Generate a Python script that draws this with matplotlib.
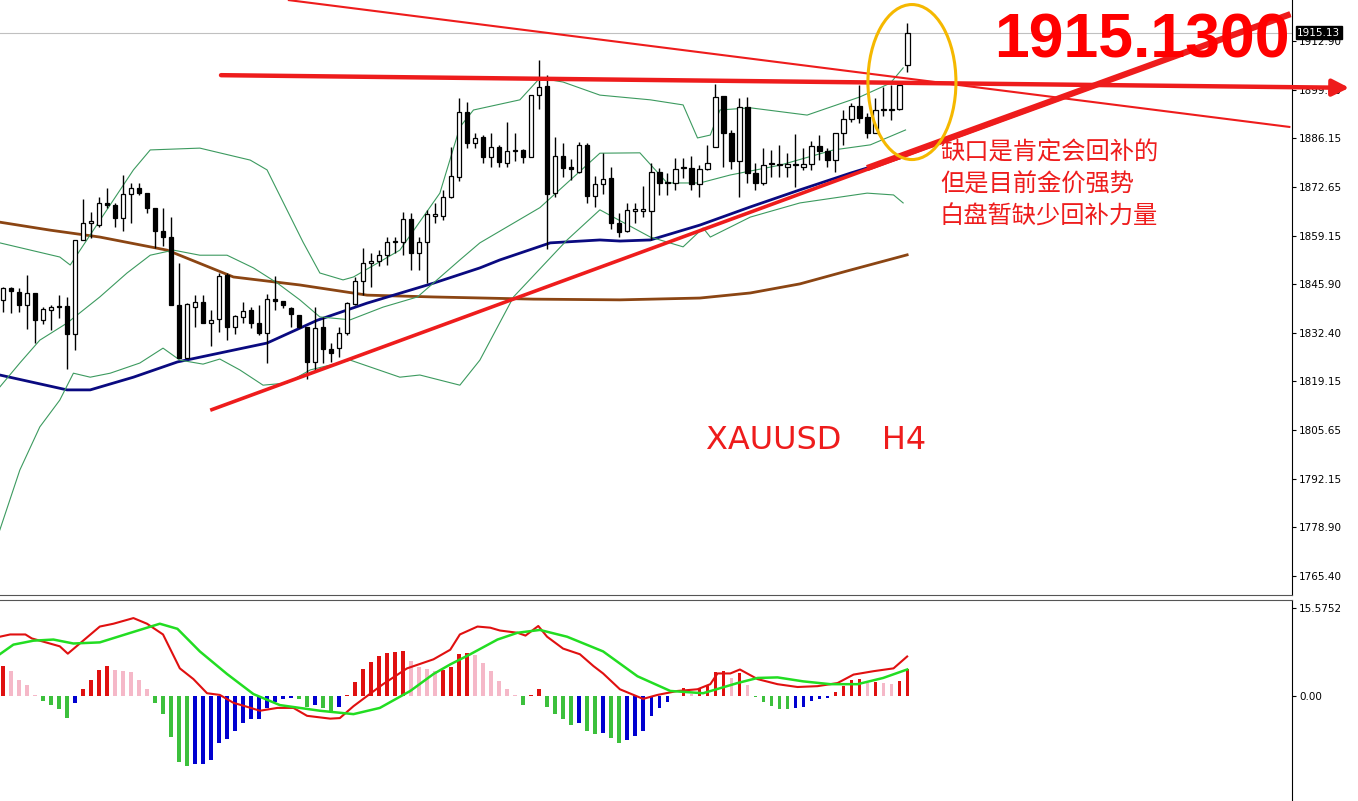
import matplotlib
matplotlib.use("Agg")
import matplotlib.pyplot as plt
from matplotlib.patches import Rectangle, Ellipse
import numpy as np

plt.rcParams['font.family'] = ['Noto Sans CJK SC', 'DejaVu Sans']

# XAUUSD H4 candles (open, high, low, close)
opens = [1841.4, 1844.8, 1843.7, 1840.1, 1843.4, 1835.9, 1838.7, 1839.5, 1839.8, 1832.1,
         1858.0, 1862.7, 1862.1, 1868.2, 1867.6, 1864.0, 1870.7, 1872.3, 1870.9, 1866.8,
         1860.5, 1858.8, 1840.1, 1825.5, 1839.5, 1840.9, 1835.1, 1836.2, 1848.3, 1834.0,
         1836.8, 1838.7, 1835.1, 1832.4, 1841.7, 1841.2, 1839.2, 1837.3, 1834.0, 1824.4,
         1833.9, 1827.9, 1828.2, 1832.4, 1840.4, 1846.7, 1851.6, 1852.2, 1853.8, 1857.4,
         1857.4, 1863.8, 1854.4, 1857.4, 1864.6, 1864.6, 1869.8, 1875.3, 1893.2, 1884.7,
         1886.4, 1880.8, 1883.6, 1879.2, 1882.5, 1882.8, 1880.8, 1897.9, 1900.4, 1870.9,
         1881.1, 1877.8, 1876.7, 1884.2, 1870.1, 1873.4, 1875.1, 1862.7, 1860.5, 1866.0,
         1866.0, 1866.0, 1876.7, 1873.7, 1873.7, 1877.8, 1877.8, 1873.4, 1877.5, 1883.6,
         1897.6, 1887.5, 1879.7, 1894.6, 1876.4, 1873.7, 1878.9, 1878.6, 1878.1, 1878.6,
         1878.1, 1878.9, 1883.9, 1882.5, 1880.0, 1887.5, 1891.3, 1894.9, 1891.9, 1887.5,
         1893.8, 1893.8, 1894.1, 1906.2]
highs = [1845.0, 1845.0, 1844.8, 1848.3, 1843.4, 1839.5, 1840.1, 1842.8, 1842.3, 1858.0,
         1869.3, 1865.7, 1869.8, 1872.3, 1868.2, 1875.9, 1873.7, 1873.7, 1870.9, 1866.8,
         1866.8, 1864.3, 1851.6, 1840.6, 1842.8, 1842.8, 1838.7, 1848.9, 1848.9, 1837.3,
         1840.9, 1839.5, 1840.1, 1843.1, 1848.1, 1840.9, 1839.5, 1837.3, 1834.0, 1839.5,
         1836.8, 1829.6, 1834.0, 1840.9, 1847.8, 1855.8, 1854.4, 1855.2, 1858.8, 1858.8,
         1865.7, 1865.4, 1858.8, 1866.2, 1868.2, 1871.8, 1883.6, 1897.1, 1896.0, 1887.5,
         1886.9, 1887.5, 1884.2, 1890.5, 1887.5, 1883.1, 1897.9, 1907.6, 1903.4, 1886.4,
         1884.7, 1880.3, 1885.0, 1884.7, 1875.6, 1881.9, 1878.1, 1865.4, 1868.2, 1868.2,
         1872.9, 1879.2, 1877.8, 1876.4, 1880.6, 1880.6, 1881.1, 1878.6, 1884.2, 1901.0,
         1897.6, 1888.3, 1897.1, 1897.4, 1879.2, 1883.3, 1882.8, 1884.2, 1881.9, 1887.2,
         1883.3, 1885.3, 1886.9, 1883.3, 1887.5, 1893.8, 1895.7, 1900.7, 1893.0, 1897.1,
         1900.1, 1900.7, 1900.7, 1917.8]
lows = [1838.1, 1837.9, 1838.1, 1833.5, 1829.6, 1834.8, 1833.2, 1836.5, 1822.4, 1827.7,
        1858.0, 1858.5, 1861.6, 1866.8, 1861.6, 1860.5, 1862.7, 1870.4, 1865.4, 1855.8,
        1856.3, 1840.1, 1825.5, 1825.5, 1834.0, 1835.1, 1828.8, 1832.6, 1830.4, 1832.1,
        1835.1, 1833.7, 1831.8, 1824.1, 1838.7, 1839.2, 1834.0, 1833.7, 1819.7, 1822.2,
        1824.1, 1824.4, 1825.7, 1831.8, 1840.1, 1842.8, 1845.0, 1850.8, 1851.1, 1854.4,
        1853.8, 1849.7, 1849.7, 1846.1, 1862.7, 1863.5, 1869.6, 1874.2, 1883.3, 1883.3,
        1879.2, 1878.1, 1878.1, 1878.1, 1879.7, 1879.2, 1881.9, 1894.1, 1855.5, 1869.8,
        1875.3, 1874.5, 1876.4, 1868.2, 1867.1, 1870.7, 1861.0, 1858.8, 1860.2, 1862.7,
        1864.3, 1858.0, 1870.4, 1870.4, 1871.8, 1875.1, 1871.8, 1869.8, 1877.3, 1883.6,
        1878.1, 1877.5, 1869.8, 1873.7, 1871.8, 1873.1, 1875.3, 1875.3, 1875.3, 1872.6,
        1877.3, 1877.3, 1880.0, 1878.1, 1876.7, 1884.2, 1890.5, 1890.2, 1886.1, 1887.5,
        1892.1, 1891.0, 1893.8, 1904.3]
closes = [1844.8, 1843.9, 1840.1, 1843.4, 1835.9, 1839.0, 1839.5, 1839.4, 1832.1, 1858.0,
          1862.7, 1862.9, 1868.2, 1867.6, 1864.0, 1870.7, 1872.3, 1870.9, 1866.8, 1860.5,
          1858.8, 1840.1, 1825.5, 1840.4, 1840.9, 1835.1, 1835.9, 1848.1, 1834.0, 1837.0,
          1838.4, 1835.1, 1832.4, 1841.7, 1841.2, 1840.1, 1837.6, 1834.0, 1824.4, 1833.7,
          1827.9, 1826.8, 1832.4, 1840.6, 1846.7, 1851.6, 1852.2, 1853.8, 1857.4, 1857.5,
          1863.8, 1854.4, 1857.4, 1865.1, 1865.1, 1869.8, 1875.6, 1893.2, 1884.7, 1886.1,
          1880.8, 1883.6, 1879.5, 1882.5, 1882.6, 1880.8, 1897.9, 1900.1, 1870.7, 1881.1,
          1877.8, 1877.6, 1884.2, 1870.1, 1873.4, 1874.8, 1862.7, 1860.2, 1866.2, 1866.1,
          1866.2, 1876.7, 1873.7, 1873.8, 1877.5, 1877.9, 1873.4, 1877.5, 1879.2, 1897.4,
          1887.5, 1879.7, 1894.6, 1876.4, 1873.7, 1878.6, 1879.0, 1878.7, 1878.9, 1878.7,
          1878.9, 1883.9, 1882.5, 1880.0, 1887.5, 1891.3, 1894.9, 1891.6, 1887.5, 1893.8,
          1893.9, 1894.1, 1900.7, 1915.1]

# Indicator lines, read at sample bar positions
brown_x = [-0.4, 5.9, 12.1, 20.5, 28.8, 37.1, 45.5, 53.8, 66.3, 77.1, 87.1, 93.4, 99.6, 105.9, 113.0]
brown_y = [1862.9, 1860.7, 1858.8, 1855.2, 1847.8, 1845.6, 1842.8, 1842.3, 1841.7, 1841.5,
           1842.0, 1843.4, 1845.9, 1849.7, 1853.9]
navy_x = [-0.4, 8.0, 10.9, 16.3, 21.8, 33.0, 39.3, 45.5, 53.8, 59.6, 62.1, 68.4, 74.6, 77.1,
          80.9, 87.1, 93.4, 99.6, 105.9, 112.1]
navy_y = [1820.8, 1816.7, 1816.7, 1820.2, 1824.4, 1829.6, 1835.9, 1840.6, 1846.1, 1850.3,
          1852.5, 1857.2, 1858.0, 1857.7, 1858.0, 1862.1, 1867.1, 1871.8, 1876.4, 1880.6]
bb_up_x = [-0.4, 7.1, 8.4, 16.3, 18.4, 24.6, 30.9, 33.0, 37.5, 39.6, 42.5, 43.8, 49.6, 54.6,
           57.1, 58.8, 64.6, 67.1, 70.0, 74.6, 80.9, 85.0, 86.8, 88.4, 89.6, 93.4, 100.5,
           107.1, 110.9, 112.5]
bb_up_y = [1857.2, 1853.3, 1851.1, 1877.3, 1882.8, 1883.3, 1880.0, 1877.3, 1857.4, 1848.9,
           1847.0, 1847.8, 1855.2, 1870.9, 1889.1, 1893.8, 1896.6, 1902.6, 1901.5, 1897.9,
           1896.6, 1895.2, 1886.1, 1886.9, 1893.8, 1894.4, 1892.4, 1897.4, 1901.2, 1905.4]
bb_mid_x = [-0.4, 2.1, 4.6, 8.0, 12.1, 15.5, 18.4, 21.3, 24.6, 28.0, 31.3, 34.3, 37.1, 39.6,
            43.4, 47.5, 51.8, 57.1, 59.6, 67.1, 74.6, 79.6, 83.0, 87.1, 90.9, 97.1, 103.8,
            108.4, 112.8]
bb_mid_y = [1817.5, 1824.1, 1830.4, 1835.1, 1842.3, 1848.9, 1853.8, 1855.2, 1853.8, 1853.8,
            1850.3, 1846.1, 1841.5, 1836.8, 1836.0, 1839.5, 1842.3, 1852.5, 1857.2, 1866.9,
            1881.9, 1882.0, 1873.7, 1873.7, 1875.9, 1878.6, 1882.8, 1884.2, 1888.3]
bb_lo_x = [-0.4, 2.1, 4.6, 7.1, 8.8, 10.9, 13.4, 17.1, 20.0, 22.1, 25.0, 27.1, 29.6, 32.5,
           35.5, 38.4, 43.4, 49.6, 52.1, 57.1, 59.6, 63.8, 70.5, 74.6, 80.9, 85.0, 87.5, 88.4,
           93.4, 99.6, 108.0, 111.3, 112.5]
bb_lo_y = [1778.1, 1794.6, 1806.5, 1813.9, 1821.3, 1820.2, 1821.3, 1824.1, 1828.2, 1824.9,
           1823.8, 1825.2, 1822.2, 1818.0, 1818.6, 1822.2, 1824.9, 1820.2, 1820.8, 1818.0,
           1824.9, 1842.3, 1858.0, 1866.3, 1858.8, 1856.1, 1861.3, 1858.8, 1864.3, 1868.2,
           1870.9, 1870.4, 1868.2]

# MACD histogram (one per candle) and lines
macd_hist = [5.25, 4.4, 2.9, 2.0, 0.2, -0.8, -1.6, -2.3, -3.8, -1.2,
             1.3, 2.9, 4.6, 5.25, 4.6, 4.5, 4.2, 2.9, 1.2, -1.3,
             -3.2, -7.3, -11.7, -12.4, -12.1, -12.0, -11.4, -8.3, -7.6, -6.2,
             -4.7, -4.1, -4.0, -2.2, -1.05, -0.6, -0.3, -0.6, -2.0, -1.6,
             -2.2, -2.6, -1.9, 0.1, 2.45, 4.7, 6.1, 7.0, 7.7, 7.75,
             8.0, 6.2, 5.1, 4.8, 4.5, 4.6, 5.1, 7.5, 7.55, 7.3,
             5.8, 4.5, 2.6, 1.3, 0.1, -1.5, 0.15, 1.3, -2.0, -3.1,
             -4.1, -5.1, -4.7, -6.2, -6.7, -6.5, -7.4, -8.3, -7.8, -7.0,
             -6.1, -3.6, -2.2, -1.0, 0.05, 1.5, 0.3, 1.3, 1.75, 4.2,
             4.4, 3.2, 4.1, 2.0, -0.1, -1.0, -1.75, -2.3, -2.35, -2.2,
             -2.0, -0.9, -0.5, -0.3, 0.7, 1.75, 2.9, 3.1, 2.3, 2.5,
             2.3, 2.2, 2.6, 4.7]
macd_x = [-0.4, 0.9, 2.8, 3.6, 7.1, 8.1, 9.6, 12.1, 13.8, 16.3,
          18.0, 20.0, 22.1, 23.8, 25.5, 27.1, 28.8, 30.5, 32.1, 34.3,
          36.3, 38.0, 40.9, 42.1, 43.8, 45.5, 47.5, 50.5, 53.8, 55.9,
          57.1, 59.3, 60.9, 62.1, 64.3, 65.3, 66.9, 68.0, 70.0, 72.1,
          73.8, 75.0, 77.1, 80.0, 81.8, 84.3, 86.8, 88.4, 89.3, 90.9,
          92.1, 94.3, 96.8, 99.3, 101.8, 104.3, 106.3, 108.8, 111.3, 113.0]
macd_y = [10.5, 10.9, 10.9, 10.2, 8.8, 7.5, 9.3, 12.3, 12.8, 13.8,
          12.8, 10.9, 4.9, 3.0, 0.5, 0.2, -1.2, -1.9, -2.6, -2.1,
          -2.1, -3.5, -4.0, -3.9, -1.8, 0.0, 2.1, 4.9, 6.5, 8.2,
          10.9, 12.3, 12.1, 11.6, 11.2, 10.7, 12.4, 10.5, 8.4, 7.4,
          5.3, 4.0, 1.2, -0.5, 0.2, 0.9, 1.2, 2.1, 4.0, 4.0,
          4.7, 3.0, 2.1, 1.6, 1.75, 2.3, 3.8, 4.4, 4.9, 7.0]
signal_x = [-0.4, 1.3, 3.8, 6.3, 8.8, 12.1, 15.5, 19.6, 21.8, 24.6,
            28.0, 31.3, 34.6, 39.6, 43.8, 47.1, 50.9, 53.8, 55.9, 58.4,
            61.8, 64.3, 67.1, 70.5, 75.0, 79.3, 83.4, 87.5, 91.8, 94.3,
            96.8, 100.0, 103.4, 106.8, 110.0, 113.0]
signal_y = [7.4, 9.1, 9.8, 10.0, 9.3, 9.5, 11.0, 12.8, 11.9, 7.9,
            3.9, 0.35, -1.6, -2.6, -3.2, -2.1, 0.9, 3.9, 5.6, 7.4,
            10.0, 11.2, 11.7, 10.5, 7.9, 3.5, 0.9, 0.5, 2.3, 3.2,
            3.3, 2.6, 2.1, 2.1, 3.2, 4.7]

price_ticks = [1912.90, 1899.40, 1886.15, 1872.65, 1859.15, 1845.90, 1832.40,
               1819.15, 1805.65, 1792.15, 1778.90, 1765.40]
last_price = 1915.13

# hand-drawn lines (bar index, price)
line_down = [(35.6, 1924.1), (160.9, 1889.1)]
line_flat = [(26.9, 1903.4), (168.6, 1899.9)]
line_up = [(25.9, 1811.1), (160.9, 1920.2)]
line_up_thick = [(108.0, 1877.8), (160.9, 1920.2)]
notes = ["缺口是肯定会回补的", "但是目前金价强势", "白盘暂缺少回补力量"]

fig = plt.figure(figsize=(13.58, 8.01), dpi=100)
ax = fig.add_axes([0, 1 - 595 / 801, 1292 / 1358, 595 / 801])
ax2 = fig.add_axes([0, 1 / 801, 1292 / 1358, 200 / 801])

red = "#EE1C1C"
n = len(closes)
idx = np.arange(n)

ax.axhline(last_price, color="#C0C0C0", lw=0.8, zorder=0)
ax.plot(brown_x, brown_y, color="#8B4513", lw=2, zorder=2)
ax.plot(navy_x, navy_y, color="#0A0A80", lw=2, zorder=2)
for xs, ys in [(bb_up_x, bb_up_y), (bb_mid_x, bb_mid_y), (bb_lo_x, bb_lo_y)]:
    ax.plot(xs, ys, color="#3C9A5F", lw=0.8, zorder=2)

for i in idx:
    o, h, l, c = opens[i], highs[i], lows[i], closes[i]
    ax.vlines(i, l, h, color="black", lw=1, zorder=3)
    lo, hi = min(o, c), max(o, c)
    if hi - lo < 0.4:
        hi = lo + 0.4
    ax.add_patch(Rectangle((i - 0.3, lo), 0.6, hi - lo, facecolor="white" if c >= o else "black",
                           edgecolor="black", lw=0.9, zorder=4))

for (x0, y0), (x1, y1), lw in [(line_down[0], line_down[1], 1.5), (line_up[0], line_up[1], 2.6),
                               (line_up_thick[0], line_up_thick[1], 4.5)]:
    ax.plot([x0, x1], [y0, y1], color=red, lw=lw, zorder=5, solid_capstyle="butt")
ax.annotate("", xy=line_flat[1], xytext=line_flat[0], annotation_clip=False,
            arrowprops=dict(arrowstyle="-|>,head_length=1.0,head_width=0.5", color=red, lw=3.2),
            zorder=6)

ax.add_patch(Ellipse((113.6, 1901.5), 11, 42.7, fill=False, edgecolor="#F5B800", lw=2.2, zorder=6))

ax.text(123.9, 1912.8, "1915.1300", color="#FF0000", fontsize=45, fontweight="bold",
        family=["Liberation Sans"], va="center", ha="left", zorder=7)
for k, s in enumerate(notes):
    ax.text(117.1, 1882.0 - k * 8.8, s, color=red, fontsize=17.5, va="center", ha="left")
ax.text(87.9, 1802.8, "XAUUSD    H4", color=red, fontsize=23, va="center", ha="left",
        family=["DejaVu Sans"])

ax.set_xlim(-0.375, 161.1)
ax.set_ylim(1760.2, 1924.1)
ax.yaxis.tick_right()
ax.set_yticks(price_ticks)
ax.set_yticklabels([f"{v:.2f}" for v in price_ticks], fontsize=7.5, family=["DejaVu Sans"])
ax.tick_params(axis="y", length=3, pad=2)
ax.set_xticks([])
for s in ["left", "top"]:
    ax.spines[s].set_visible(False)
ax.spines["bottom"].set_color("#555555")
ax.text(1.004, (last_price - 1760.2) / (1924.1 - 1760.2), f"{last_price:.2f}", transform=ax.transAxes,
        color="white", fontsize=7.5, va="center", ha="left", family=["DejaVu Sans"],
        bbox=dict(facecolor="black", edgecolor="black", pad=1.2), zorder=8)

# MACD panel
cols = []
for i, v in enumerate(macd_hist):
    prev = macd_hist[i - 1] if i else v
    if v >= 0:
        cols.append("#E01010" if v >= prev else "#F5B8C8")
    else:
        cols.append("#3CC03C" if v <= prev else "#0000D0")
ax2.bar(idx, macd_hist, width=0.4, color=cols, zorder=2)
ax2.plot(macd_x, macd_y, color="#E01010", lw=1.5, zorder=3)
ax2.plot(signal_x, signal_y, color="#22DD22", lw=1.8, zorder=3)
ax2.set_xlim(-0.375, 161.1)
ax2.set_ylim(-18.4, 17.0)
ax2.yaxis.tick_right()
ax2.set_yticks([15.5752, 0.0])
ax2.set_yticklabels(["15.5752", "0.00"], fontsize=7.5, family=["DejaVu Sans"])
ax2.tick_params(axis="y", length=3, pad=2)
ax2.set_xticks([])
for s in ["left", "bottom"]:
    ax2.spines[s].set_visible(False)
ax2.spines["top"].set_color("#555555")

fig.savefig("out.png", dpi=100)
